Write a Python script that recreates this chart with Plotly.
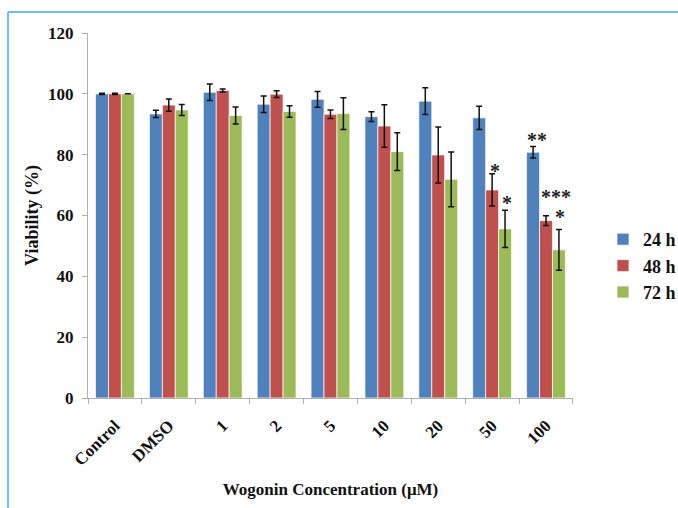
import plotly.graph_objects as go

# Wogonin treatment groups
categories = ["Control", "DMSO", "1", "2", "5", "10", "20", "50", "100"]

# Mean viability (%) per exposure time
viab_24h = [100.0, 93.4, 100.5, 96.6, 98.2, 92.5, 97.6, 92.1, 80.8]
viab_48h = [100.0, 96.3, 101.1, 99.9, 93.3, 89.4, 79.9, 68.4, 58.3]
viab_72h = [100.0, 94.7, 92.9, 94.2, 93.5, 81.0, 71.9, 55.6, 48.7]

# Standard deviations
sd_24h = [0.2, 1.2, 2.7, 2.7, 2.6, 1.6, 4.4, 3.8, 1.9]
sd_48h = [0.2, 2.0, 0.5, 1.1, 1.4, 7.0, 9.2, 5.3, 1.6]
sd_72h = [0.0, 1.8, 2.8, 1.9, 5.2, 6.2, 9.0, 6.1, 6.7]

series_names = ["24 h", "48 h", "72 h"]
series_colors = ["#4F81BD", "#C0504D", "#9BBB59"]

# Significance marks: category, series index, label
sig_cats = ["50", "50", "100", "100", "100"]
sig_series = [1, 2, 0, 1, 2]
sig_labels = ["*", "*", "**", "***", "*"]

W, H = 678, 508
ML, MR, MT, MB = 88, 105, 33, 110
BARGAP = 0.28
FONT = "Liberation Serif"
TEXT = "#111111"

fig = go.Figure()
for name, color, vals, errs in zip(series_names, series_colors,
                                   [viab_24h, viab_48h, viab_72h],
                                   [sd_24h, sd_48h, sd_72h]):
    fig.add_trace(go.Bar(
        x=categories, y=vals, name=name,
        marker=dict(color=color, line=dict(color="rgba(255,255,255,0.7)", width=1)),
        error_y=dict(type="data", array=errs, visible=True,
                     color=TEXT, thickness=1.5, width=3),
    ))

# Asterisks above the error bars (x given as category index)
means = [viab_24h, viab_48h, viab_72h]
sds = [sd_24h, sd_48h, sd_72h]
plot_w = W - ML - MR
cat_px = plot_w / len(categories)
bar_w = (1 - BARGAP) / 3
gap_px = [4, 8, 7, 20, 13]      # clearance above each error bar cap
extra_x = [3, 2, 4, 10, 1]      # nudge so labels sit off the whisker
for cat, s, label, gap, dx in zip(sig_cats, sig_series, sig_labels, gap_px, extra_x):
    i = categories.index(cat)
    top = means[s][i] + sds[s][i]
    fig.add_annotation(
        x=i, y=top, xref="x", yref="y", text=label, showarrow=False,
        xshift=(s - 1) * bar_w * cat_px + dx, yshift=gap - 14, yanchor="bottom",
        font=dict(family=FONT, size=20, color="#222222", weight="bold"),
    )

# Light blue frame around the figure
px_to_x = lambda px: (px - ML) / plot_w
py_to_y = lambda py: (H - MB - py) / (H - MT - MB)
frame = dict(type="line", xref="paper", yref="paper",
             line=dict(color="#6FC3E2", width=2))
fig.add_shape(x0=px_to_x(8), x1=px_to_x(W), y0=py_to_y(12), y1=py_to_y(12), **frame)
fig.add_shape(x0=px_to_x(8), x1=px_to_x(8), y0=py_to_y(12), y1=py_to_y(H), **frame)

axis_font = dict(family=FONT, size=17, color=TEXT, weight="bold")
fig.update_layout(
    width=W, height=H,
    margin=dict(l=ML, r=MR, t=MT, b=MB, autoexpand=False),
    paper_bgcolor="white", plot_bgcolor="white",
    barmode="group", bargap=BARGAP, bargroupgap=0,
    font=dict(family=FONT, color=TEXT),
    legend=dict(x=px_to_x(603), y=py_to_y(266), xanchor="left", yanchor="middle",
                font=dict(family=FONT, size=18, color=TEXT, weight="bold"),
                itemwidth=30, tracegroupgap=3, bgcolor="rgba(0,0,0,0)"),
    xaxis=dict(
        type="category", tickangle=-45, tickfont=axis_font, automargin=False,
        ticks="outside", tickson="boundaries", ticklen=5, tickcolor="#B0B0B0",
        ticklabelstandoff=10,
        showline=True, linecolor="#B0B0B0", linewidth=1, showgrid=False,
        title=dict(text="Wogonin Concentration (μM)",
                   font=dict(family=FONT, size=17, color=TEXT, weight="bold"),
                   standoff=14),
    ),
    yaxis=dict(
        range=[0, 120], dtick=20, tickfont=axis_font, automargin=False,
        ticks="outside", ticklen=5, tickcolor="#B0B0B0", ticklabelstandoff=5,
        showline=True, linecolor="#B0B0B0", linewidth=1, showgrid=False, zeroline=False,
        title=dict(text="Viability (%)",
                   font=dict(family=FONT, size=18, color=TEXT, weight="bold"),
                   standoff=4),
    ),
)

fig.write_html("out.html")
